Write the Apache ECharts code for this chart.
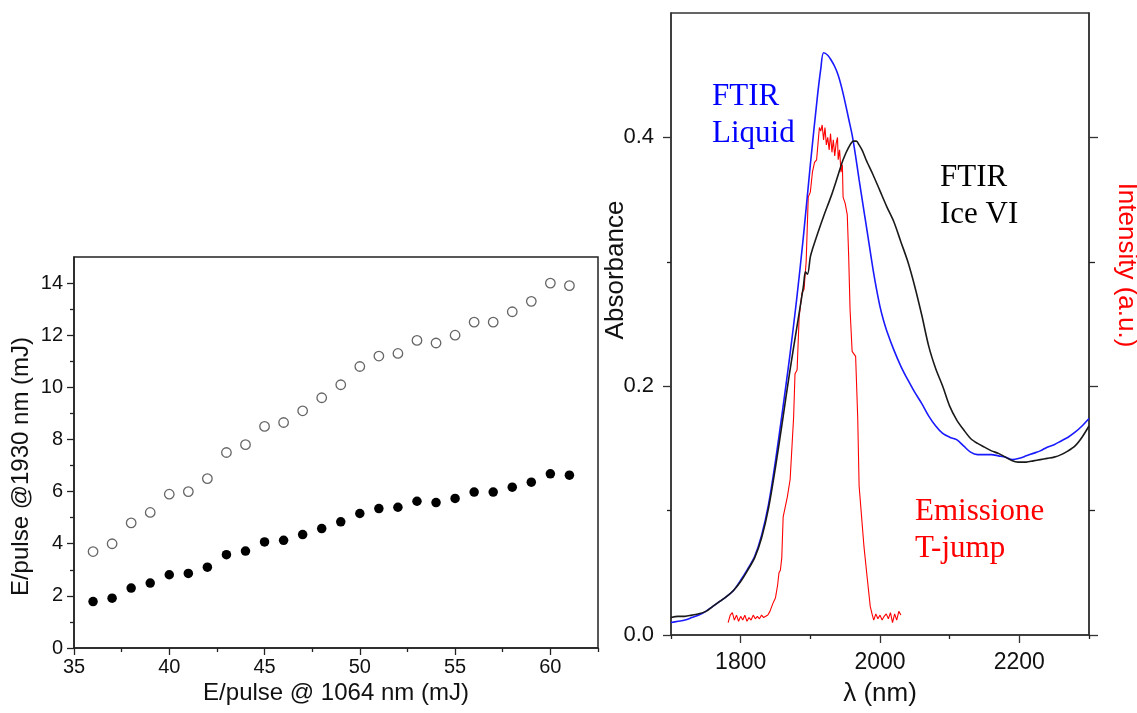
<!DOCTYPE html>
<html>
<head>
<meta charset="utf-8">
<script src="https://cdn.jsdelivr.net/npm/echarts@6/dist/echarts.min.js"></script>
<style>
html,body{margin:0;padding:0;background:#fff;}
#c{width:1137px;height:713px;}
</style>
</head>
<body>
<div id="c"></div>
<script>
// ---------- Left chart data ----------
var leftX = [36,37,38,39,40,41,42,43,44,45,46,47,48,49,50,51,52,53,54,55,56,57,58,59,60,61];
var openVals = [3.7,4.0,4.8,5.2,5.9,6.0,6.5,7.5,7.8,8.5,8.65,9.1,9.6,10.1,10.8,11.2,11.3,11.8,11.7,12.0,12.5,12.5,12.9,13.3,14.0,13.9];
var filledVals = [1.78,1.91,2.3,2.49,2.81,2.86,3.1,3.58,3.72,4.07,4.13,4.35,4.58,4.84,5.16,5.35,5.4,5.63,5.58,5.74,5.98,5.98,6.17,6.36,6.68,6.63];
var leftXTicks = [35,40,45,50,55,60];
var leftXMinor = [37.5,42.5,47.5,52.5,57.5,62.5];
var leftYTicks = [0,2,4,6,8,10,12,14];
var leftYMinor = [1,3,5,7,9,11,13];

// ---------- Right chart data ----------
var blueX = [1700,1710,1720,1730,1740,1750,1760,1770,1780,1790,1800,1810,1820,1830,1840,1850,1860,1870,1880,1890,1900,1910,1915,1919,1925,1930,1935,1940,1945,1950,1955,1960,1965,1970,1975,1980,1985,1990,1995,2000,2005,2010,2020,2030,2040,2050,2060,2070,2080,2090,2100,2110,2120,2130,2140,2150,2160,2170,2180,2190,2200,2210,2220,2230,2240,2250,2260,2270,2280,2290,2300];
var blueY = [0.010,0.011,0.012,0.014,0.016,0.019,0.023,0.027,0.031,0.036,0.044,0.053,0.063,0.080,0.105,0.140,0.180,0.222,0.268,0.320,0.378,0.432,0.455,0.468,0.466,0.462,0.457,0.450,0.440,0.428,0.415,0.402,0.385,0.366,0.348,0.330,0.312,0.294,0.278,0.264,0.253,0.244,0.229,0.216,0.205,0.195,0.186,0.176,0.168,0.162,0.159,0.157,0.152,0.147,0.145,0.145,0.145,0.144,0.143,0.141,0.142,0.144,0.146,0.148,0.151,0.153,0.156,0.159,0.163,0.168,0.174];

var blackX = [1700,1710,1720,1730,1740,1750,1760,1770,1780,1790,1800,1810,1820,1830,1840,1850,1860,1870,1880,1890,1893,1896,1900,1903,1910,1920,1930,1940,1947,1955,1962,1966,1970,1975,1980,1990,2000,2010,2020,2030,2040,2050,2060,2070,2080,2090,2100,2110,2120,2130,2140,2150,2160,2170,2180,2190,2198,2210,2220,2230,2240,2250,2260,2270,2280,2290,2300];
var blackY = [0.014,0.015,0.015,0.016,0.017,0.019,0.023,0.027,0.031,0.036,0.043,0.052,0.062,0.078,0.102,0.135,0.172,0.210,0.245,0.280,0.292,0.290,0.304,0.310,0.322,0.338,0.353,0.370,0.382,0.392,0.397,0.397,0.394,0.389,0.382,0.370,0.357,0.344,0.332,0.316,0.300,0.280,0.257,0.232,0.214,0.200,0.184,0.173,0.165,0.158,0.154,0.151,0.148,0.146,0.143,0.140,0.139,0.139,0.140,0.141,0.142,0.143,0.145,0.148,0.152,0.159,0.168];

var redX = [1782,1785,1788,1791,1794,1797,1800,1803,1806,1809,1812,1815,1818,1821,1824,1827,1830,1833,1836,1839,1842,1846,1850,1853,1855,1857,1859,1861,1864,1867,1871,1874,1876,1878,1881,1884,1888,1891,1894,1897,1900,1903,1906,1909,1911,1913,1915,1917,1919,1921,1923,1925,1927,1929,1931,1933,1935,1937,1939,1940,1942,1944,1946,1947,1950,1953,1955,1957,1960,1965,1968,1970,1972,1977,1982,1986,1989,1991,1994,1997,2000,2003,2006,2009,2012,2015,2018,2021,2024,2027,2030];
var redY = [0.010,0.016,0.018,0.012,0.016,0.011,0.015,0.012,0.016,0.011,0.014,0.012,0.016,0.013,0.015,0.013,0.016,0.014,0.015,0.016,0.019,0.025,0.030,0.040,0.050,0.052,0.062,0.095,0.103,0.111,0.125,0.155,0.175,0.210,0.213,0.256,0.275,0.278,0.300,0.352,0.356,0.372,0.380,0.382,0.395,0.408,0.405,0.410,0.398,0.408,0.394,0.400,0.390,0.403,0.388,0.398,0.385,0.395,0.400,0.382,0.390,0.372,0.378,0.352,0.347,0.338,0.305,0.262,0.228,0.224,0.175,0.120,0.106,0.071,0.044,0.023,0.016,0.012,0.017,0.013,0.016,0.012,0.015,0.017,0.013,0.018,0.010,0.017,0.012,0.019,0.016];
var rightXTicks = [1800,2000,2200];
var rightXMinor = [1700,1900,2100,2300];
var rightYTicks = [0,0.2,0.4];
var rightYMinor = [0.1,0.3];

function pairs(xs, ys){ return xs.map(function(x,i){ return [x, ys[i]]; }); }

var SANS = '"Liberation Sans", Arial, sans-serif';
var SERIF = '"Liberation Serif", "Times New Roman", serif';
var AX = '#222';

var chart = echarts.init(document.getElementById('c'), null, {renderer:'canvas'});

function minorAxisX(grid, min, max, vals, len){
  return {type:'value', gridIndex:grid, min:min, max:max, position:'bottom', offset:0,
    axisLine:{show:false}, splitLine:{show:false}, axisLabel:{show:false},
    axisTick:{show:true, inside:false, length:len, customValues:vals, lineStyle:{color:AX, width:1.3}}};
}
function minorAxisY(grid, min, max, vals, len, pos){
  return {type:'value', gridIndex:grid, min:min, max:max, position:pos, offset:0,
    axisLine:{show:false}, splitLine:{show:false}, axisLabel:{show:false},
    axisTick:{show:true, inside:false, length:len, customValues:vals, lineStyle:{color:AX, width:1.3}}};
}

var option = {
  animation:false,
  backgroundColor:'#fff',
  grid:[
    {left:74, top:257, width:524, height:391, show:true, borderColor:AX, borderWidth:1.5, backgroundColor:'transparent',
      containLabel:false, outerBoundsMode:'none'},
    {left:671, top:13, width:418, height:622, show:true, borderColor:'#333', borderWidth:1.5, backgroundColor:'transparent',
      containLabel:false, outerBoundsMode:'none'}
  ],
  xAxis:[
    {type:'value', gridIndex:0, min:35, max:62.5, position:'bottom', offset:0,
      name:'E/pulse @ 1064 nm (mJ)', nameLocation:'middle', nameGap:33, nameMoveOverlap:false,
      nameTextStyle:{fontFamily:SANS, fontSize:24, color:'#111'},
      axisLine:{show:true, lineStyle:{color:AX, width:1.5}},
      splitLine:{show:false},
      axisTick:{show:true, length:7, customValues:leftXTicks, lineStyle:{color:AX, width:1.3}},
      axisLabel:{customValues:leftXTicks, fontFamily:SANS, fontSize:20, color:'#111', margin:9,
        formatter:function(v){ return String(v); }}},
    minorAxisX(0, 35, 62.5, leftXMinor, 4),
    {type:'value', gridIndex:1, min:1700, max:2300, position:'bottom', offset:0,
      name:'\u03bb (nm)', nameLocation:'middle', nameGap:46, nameMoveOverlap:false,
      nameTextStyle:{fontFamily:SANS, fontSize:26, color:'#111'},
      axisLine:{show:true, lineStyle:{color:'#333', width:1.5}},
      splitLine:{show:false},
      axisTick:{show:true, length:8, customValues:rightXTicks, lineStyle:{color:'#333', width:1.3}},
      axisLabel:{customValues:rightXTicks, fontFamily:SANS, fontSize:23, color:'#111', margin:16,
        formatter:function(v){ return String(v); }}},
    minorAxisX(1, 1700, 2300, rightXMinor, 4)
  ],
  yAxis:[
    {type:'value', gridIndex:0, min:0, max:15, position:'left', offset:0,
      name:'E/pulse @1930 nm (mJ)', nameLocation:'middle', nameGap:41, nameMoveOverlap:false,
      nameTextStyle:{fontFamily:SANS, fontSize:24, color:'#111', padding:[0,28,0,0]},
      axisLine:{show:true, lineStyle:{color:AX, width:1.5}},
      splitLine:{show:false},
      axisTick:{show:true, length:7, customValues:leftYTicks, lineStyle:{color:AX, width:1.3}},
      axisLabel:{customValues:leftYTicks, fontFamily:SANS, fontSize:20, color:'#111', margin:11}},
    minorAxisY(0, 0, 15, leftYMinor, 4, 'left'),
    {type:'value', gridIndex:1, min:0, max:0.5, position:'left', offset:0,
      name:'Absorbance', nameLocation:'middle', nameGap:42, nameMoveOverlap:false,
      nameTextStyle:{fontFamily:SANS, fontSize:26, color:'#111', padding:[0,0,0,108]},
      axisLine:{show:true, lineStyle:{color:'#333', width:1.5}},
      splitLine:{show:false},
      axisTick:{show:true, length:8, customValues:rightYTicks, lineStyle:{color:'#333', width:1.3}},
      axisLabel:{customValues:rightYTicks, fontFamily:SANS, fontSize:22, color:'#111', margin:17,
        formatter:function(v){ return v.toFixed(1); }}},
    minorAxisY(1, 0, 0.5, rightYMinor, 4, 'left'),
    {type:'value', gridIndex:1, min:0, max:0.5, position:'right', offset:0,
      name:'Intensity (a.u.)', nameLocation:'middle', nameGap:24, nameRotate:-90, nameMoveOverlap:false,
      nameTextStyle:{fontFamily:SANS, fontSize:26, color:'#ff0000', padding:[0,118,0,0]},
      axisLine:{show:true, lineStyle:{color:'#333', width:1.5}},
      splitLine:{show:false},
      axisTick:{show:true, length:9, customValues:rightYTicks, lineStyle:{color:'#333', width:1.3}},
      axisLabel:{show:false}},
    minorAxisY(1, 0, 0.5, rightYMinor, 6, 'right')
  ],
  series:[
    {type:'scatter', xAxisIndex:0, yAxisIndex:0, data:pairs(leftX, openVals), symbol:'circle', symbolSize:9.5,
      itemStyle:{color:'#fff', borderColor:'#666', borderWidth:1.3, opacity:1}},
    {type:'scatter', xAxisIndex:0, yAxisIndex:0, data:pairs(leftX, filledVals), symbol:'circle', symbolSize:9.5,
      itemStyle:{color:'#000', opacity:1}},
    {type:'line', xAxisIndex:2, yAxisIndex:4, data:pairs(redX, redY), showSymbol:false, symbol:'none',
      lineStyle:{color:'#ff0000', width:1.1}, z:3},
    {type:'line', xAxisIndex:2, yAxisIndex:2, data:pairs(blueX, blueY), showSymbol:false, symbol:'none', smooth:0.3,
      lineStyle:{color:'#1a1aff', width:1.6}, z:4},
    {type:'line', xAxisIndex:2, yAxisIndex:2, data:pairs(blackX, blackY), showSymbol:false, symbol:'none', smooth:0.3,
      lineStyle:{color:'#1a1a1a', width:1.6}, z:5}
  ],
  graphic:[
    {type:'text', left:712, top:78, style:{text:'FTIR\nLiquid', fill:'#0000ff', font:'31px ' + SERIF, lineHeight:37}},
    {type:'text', left:940, top:159, style:{text:'FTIR\nIce VI', fill:'#000', font:'31px ' + SERIF, lineHeight:37}},
    {type:'text', left:915, top:493, style:{text:'Emissione\nT-jump', fill:'#ff0000', font:'31px ' + SERIF, lineHeight:37}}
  ]
};
chart.setOption(option);
</script>
</body>
</html>
